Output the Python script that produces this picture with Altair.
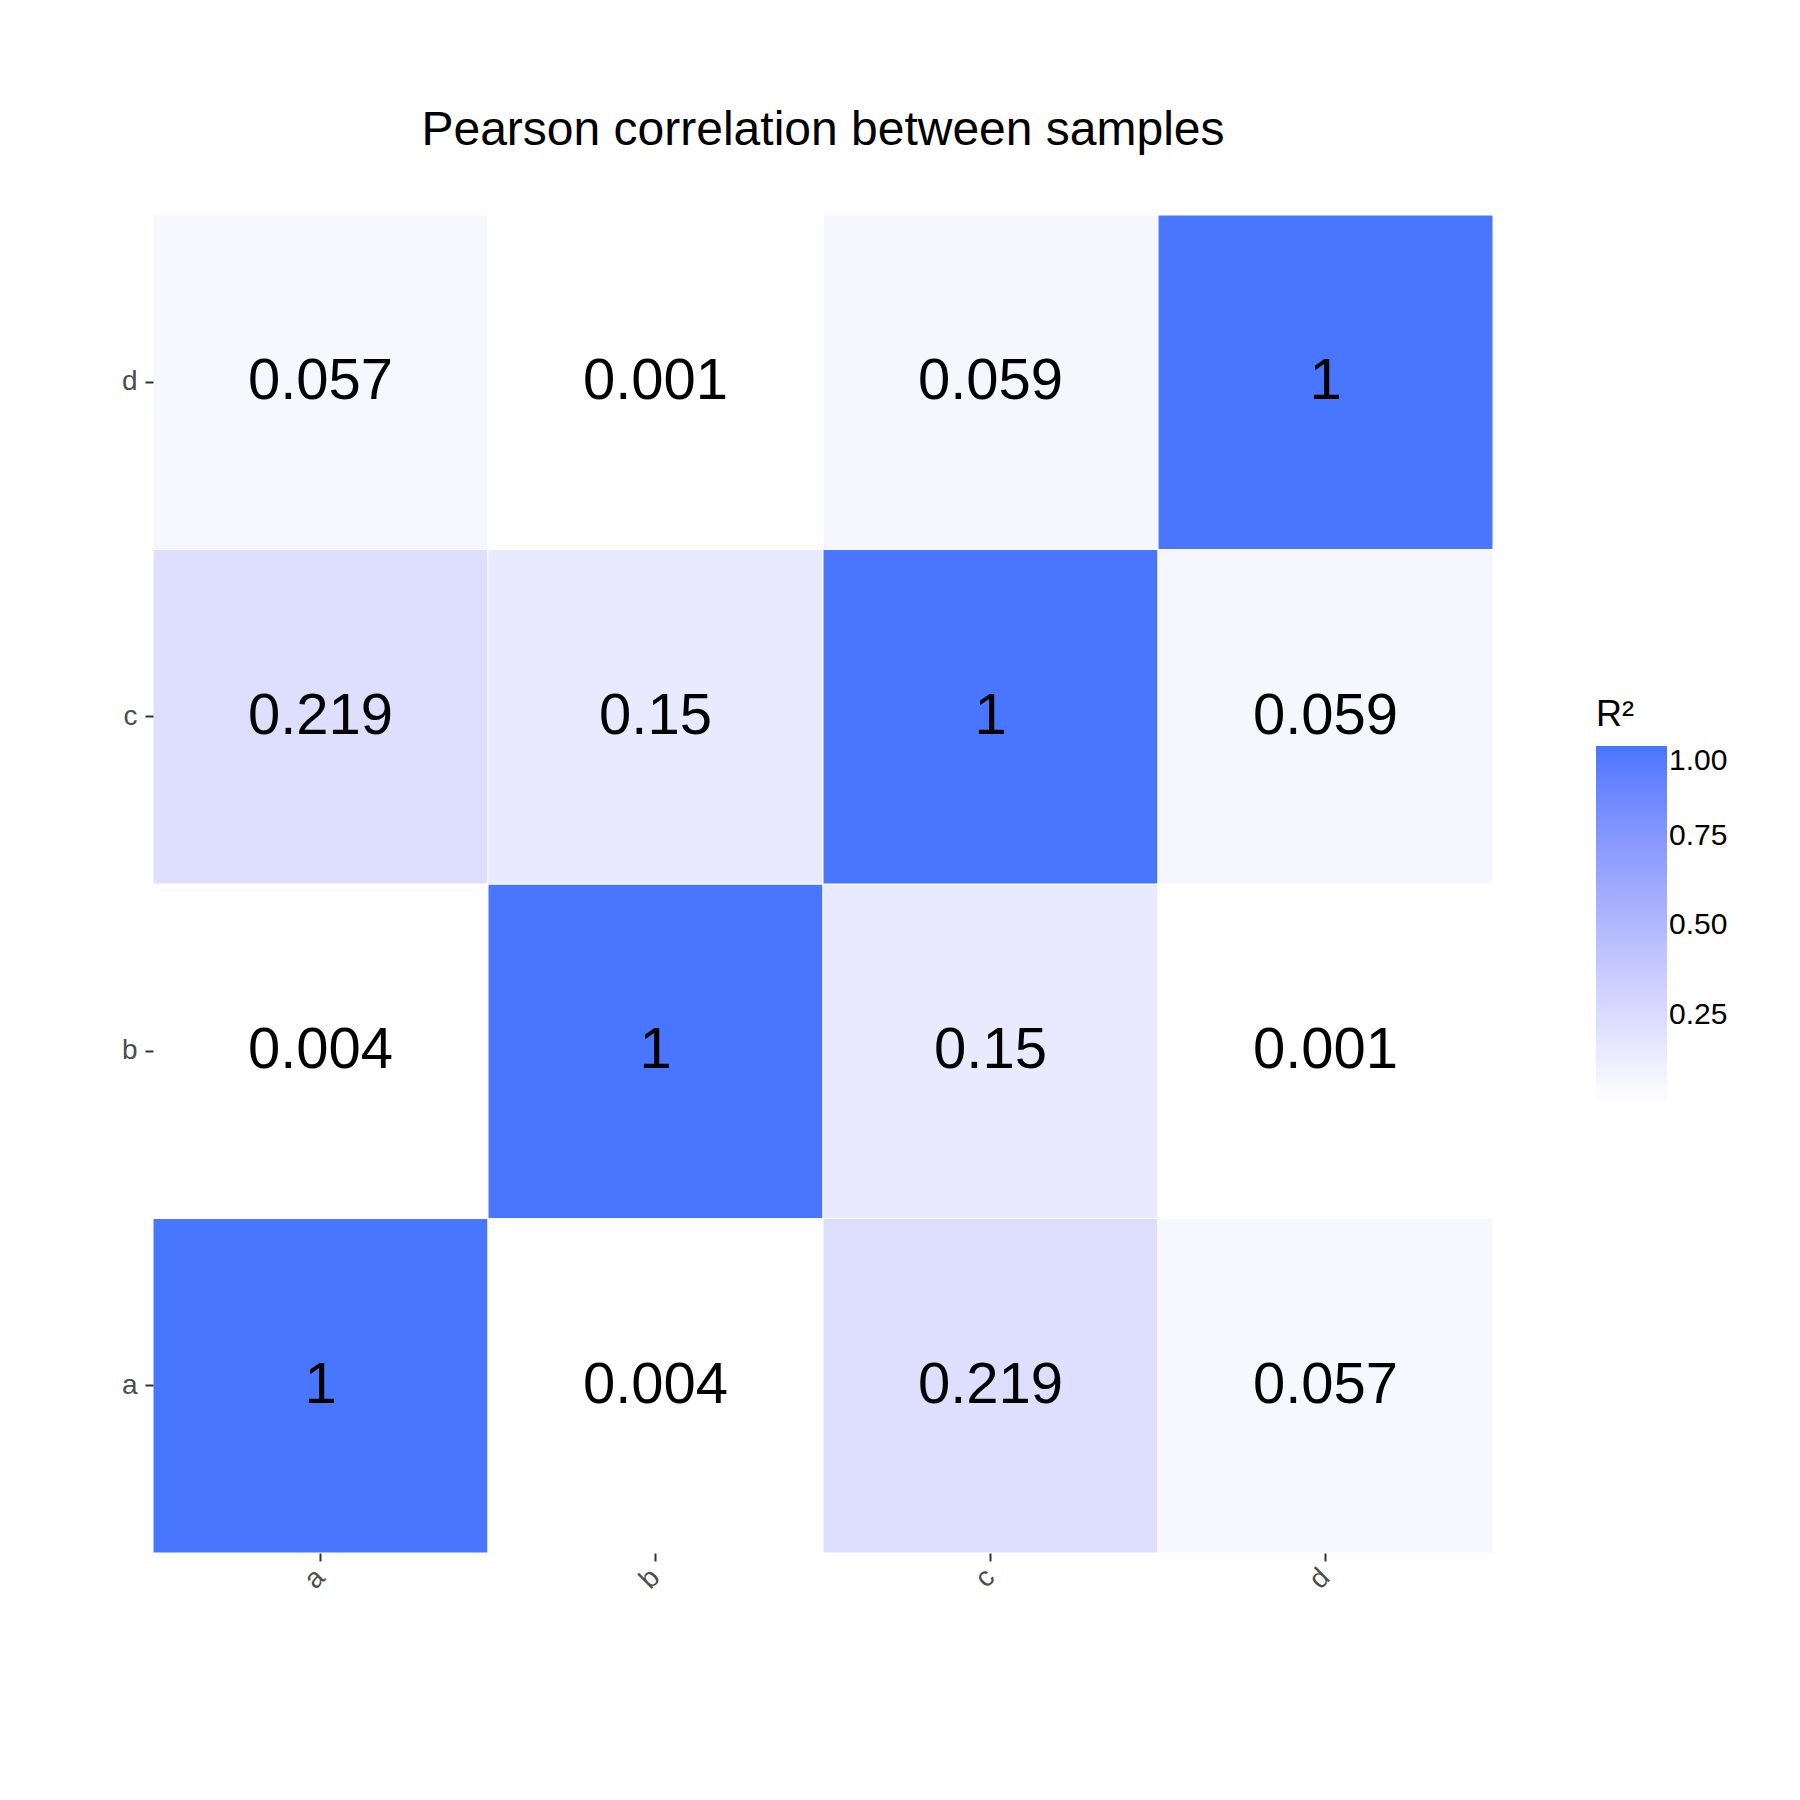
import altair as alt
import pandas as pd

samples = ["a", "b", "c", "d"]
r2_matrix = [
    [1, 0.004, 0.219, 0.057],
    [0.004, 1, 0.15, 0.001],
    [0.219, 0.15, 1, 0.059],
    [0.057, 0.001, 0.059, 1],
]

rows = []
for i, x in enumerate(samples):
    for j, y in enumerate(samples):
        v = r2_matrix[i][j]
        rows.append({"x": x, "y": y, "r2": v, "label": f"{v:g}"})
df = pd.DataFrame(rows)

font = "Liberation Sans"
base = alt.Chart(df)

tiles = base.mark_rect(stroke="white", strokeWidth=1).encode(
    x=alt.X(
        "x:N",
        sort=samples,
        title=None,
        scale=alt.Scale(paddingInner=0, paddingOuter=0),
        axis=alt.Axis(
            labelAngle=315, labelFontSize=28, labelColor="#4D4D4D", labelFont=font,
            tickColor="#333333", tickSize=8, tickWidth=2, domain=False,
            labelPadding=12, labelAlign="right", labelBaseline="middle",
        ),
    ),
    y=alt.Y(
        "y:N",
        sort=samples[::-1],
        title=None,
        scale=alt.Scale(paddingInner=0, paddingOuter=0),
        axis=alt.Axis(
            labelFontSize=28, labelColor="#4D4D4D", labelFont=font,
            tickColor="#333333", tickSize=8, tickWidth=2, domain=False, labelPadding=8,
        ),
    ),
    color=alt.Color(
        "r2:Q",
        title="R²",
        scale=alt.Scale(domain=[0.001, 1], range=["#FFFFFF", "#4876FF"], interpolate="lab"),
        legend=alt.Legend(
            orient="none", legendX=1443, legendY=483,
            gradientLength=358, gradientThickness=71,
            values=[0.25, 0.5, 0.75, 1.0], format=".2f",
            labelFontSize=30, labelFont=font, labelColor="black",
            titleFontSize=36, titleFont=font, titleFontWeight="normal", titleColor="black",
            titlePadding=12, tickCount=4,
        ),
    ),
)

text = base.mark_text(fontSize=58, font=font, color="black").encode(
    x=alt.X("x:N", sort=samples),
    y=alt.Y("y:N", sort=samples[::-1]),
    text="label:N",
)

chart = (
    alt.layer(tiles, text)
    .properties(
        width=1340,
        height=1338,
        title=alt.TitleParams(
            "Pearson correlation between samples",
            fontSize=48, font=font, fontWeight="normal", color="black",
            anchor="middle", offset=60,
        ),
        autosize=alt.AutoSizeParams(type="none"),
        padding={"left": 145, "top": 207, "right": 299, "bottom": 239},
    )
    .configure_view(stroke=None)
)

chart.save("out.html", embed_options={"renderer": "svg", "actions": False})
